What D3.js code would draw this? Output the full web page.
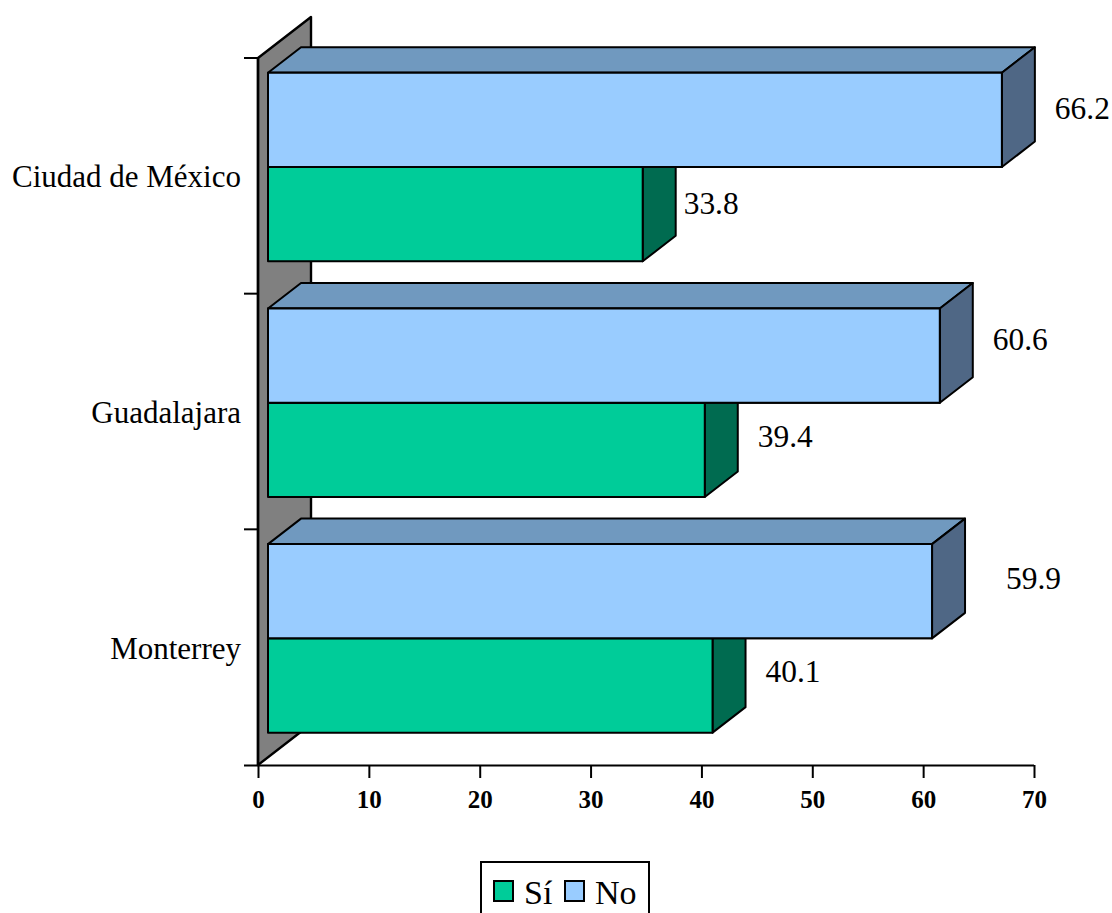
<!DOCTYPE html>
<html><head><meta charset="utf-8">
<script src="https://cdn.jsdelivr.net/npm/d3@7/dist/d3.min.js"></script>
<style>html,body{margin:0;padding:0;background:#fff;overflow:hidden}svg{display:block}text{font-family:"Liberation Serif",serif;fill:#000}</style>
</head><body><svg id="c" width="1112" height="913"></svg>
<script>
const categories = ["Ciudad de México","Guadalajara","Monterrey"];
const seriesNames = ["No","Sí"];
const noValues = [66.2,60.6,59.9];
const siValues = [33.8,39.4,40.1];
const xTicks = [0,10,20,30,40,50,60,70];
const labelShiftX = {No:[53,53,74], "Sí":[41,53,53]};
const labelShiftY = {No:[-11,-16,-13], "Sí":[-11,-13,-14]};

const svg = d3.select("#c");
const x = d3.scaleLinear().domain([0,70]).range([258,1034]);
const y = d3.scaleBand().domain(categories).range([58,765]).paddingInner(0.2).paddingOuter(0.1);
const yAll = d3.scaleBand().domain(categories).range([58,765]);
const inner = d3.scaleBand().domain(seriesNames).range([0,y.bandwidth()]);
const pal = {
  "No":{front:"#99CCFF",top:"#7099BF",side:"#4F6785"},
  "Sí":{front:"#00CC99",top:"#009973",side:"#006B50"}
};
const bdx=33,bdy=-25.5, ox=10, oy=-8.8;
const line = d3.line();
function poly(sel,pts,fill,sw){
  return sel.append("path").attr("d",line(pts)+"Z").attr("fill",fill).attr("stroke","#000").attr("stroke-width",sw||2).attr("stroke-linejoin","round");
}
// back wall
const wx=53, wy=-41;
poly(svg,[[x(0),58],[x(0)+wx,58+wy],[x(0)+wx,765+wy],[x(0),765]],"#808080",2.4);

// bars
const rows = categories.flatMap((c,i)=>[
  {c,i,s:"Sí",v:siValues[i]},{c,i,s:"No",v:noValues[i]}
]);
const g = svg.append("g");
rows.forEach(d=>{
  const x0=x(0)+ox, x1=x(d.v)+ox, y0=y(d.c)+inner(d.s)+oy, y1=y0+inner.bandwidth();
  const p=pal[d.s];
  poly(g,[[x0,y0],[x0+bdx,y0+bdy],[x1+bdx,y0+bdy],[x1,y0]],p.top);
  poly(g,[[x1,y0],[x1+bdx,y0+bdy],[x1+bdx,y1+bdy],[x1,y1]],p.side);
  poly(g,[[x0,y0],[x1,y0],[x1,y1],[x0,y1]],p.front);
});
// re-draw blue fronts last so top faces of green do not show
rows.filter(d=>d.s==="No").forEach(d=>{
  const x0=x(0)+ox, x1=x(d.v)+ox, y0=y(d.c)+inner(d.s)+oy, y1=y0+inner.bandwidth();
  poly(g,[[x0,y0],[x1,y0],[x1,y1],[x0,y1]],pal.No.front);
});
rows.forEach(d=>{
  const yc=y(d.c)+inner(d.s)+inner.bandwidth()/2+oy;
  svg.append("text").attr("x",x(d.v)+ox+labelShiftX[d.s][d.i]).attr("y",yc+labelShiftY[d.s][d.i])
    .attr("dominant-baseline","central").attr("font-size",31).attr("textLength",55).attr("lengthAdjust","spacingAndGlyphs").text(d.v.toFixed(1));
});
// axes
const xAxis = d3.axisBottom(x).tickValues(xTicks).tickSize(13).tickPadding(12).tickSizeOuter(0);
const gx = svg.append("g").attr("transform","translate(0,765)").call(xAxis);
gx.select(".domain").attr("d",`M244,0.5H${x(70)}`).attr("stroke","#000").attr("stroke-width",2);
gx.selectAll(".tick line").attr("stroke","#000").attr("stroke-width",2);
gx.selectAll("text").attr("font-size",25).attr("font-weight","bold").attr("font-family",'"Liberation Serif",serif').attr("fill","#000");

const yAxisG = svg.append("g");
yAxisG.append("line").attr("x1",x(0)).attr("x2",x(0)).attr("y1",58).attr("y2",765).attr("stroke","#000").attr("stroke-width",2.4);
categories.forEach((c,i)=>{
  const t=yAll(c);
  yAxisG.append("line").attr("x1",244).attr("x2",x(0)).attr("y1",t).attr("y2",t).attr("stroke","#000").attr("stroke-width",2);
  yAxisG.append("text").attr("x",241).attr("y",t+yAll.bandwidth()/2+1).attr("text-anchor","end").attr("dominant-baseline","central").attr("font-size",31).text(c);
});
// legend
const lg = svg.append("g");
lg.append("rect").attr("x",481).attr("y",862).attr("width",168).attr("height",60).attr("fill","#fff").attr("stroke","#000").attr("stroke-width",2);
[["Sí",494,524],["No",565,595]].forEach(([n,sx,tx])=>{
  lg.append("rect").attr("x",sx).attr("y",881).attr("width",19).attr("height",20).attr("fill",pal[n].front).attr("stroke","#000").attr("stroke-width",2);
  lg.append("text").attr("x",tx).attr("y",904).attr("font-size",34).text(n);
});
</script></body></html>
